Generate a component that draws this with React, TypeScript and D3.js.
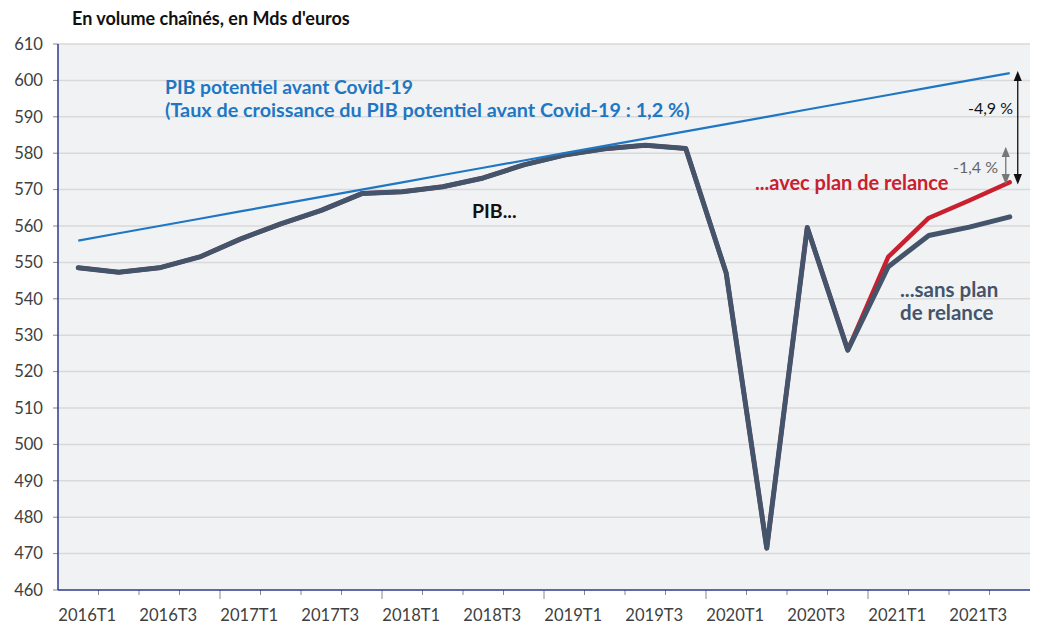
import React from 'react';
import * as d3 from 'd3';

// quarters on the x axis
const quarters = [
  '2016T1', '2016T2', '2016T3', '2016T4',
  '2017T1', '2017T2', '2017T3', '2017T4',
  '2018T1', '2018T2', '2018T3', '2018T4',
  '2019T1', '2019T2', '2019T3', '2019T4',
  '2020T1', '2020T2', '2020T3', '2020T4',
  '2021T1', '2021T2', '2021T3', '2021T4',
];

// PIB potentiel avant Covid-19
const potentiel = [
  556.0, 558.0, 560.0, 562.0, 564.0, 566.0, 568.0, 570.0,
  572.0, 574.0, 576.0, 578.0, 580.0, 582.0, 584.0, 586.0,
  588.0, 590.0, 592.0, 594.0, 596.0, 598.0, 600.0, 602.0,
];

// PIB ... sans plan de relance
const sansPlan = [
  548.5, 547.3, 548.5, 551.5, 556.4, 560.6, 564.3, 568.9,
  569.4, 570.8, 573.2, 576.8, 579.5, 581.2, 582.2, 581.3,
  547.0, 471.5, 559.6, 525.9, 548.8, 557.4, 559.7, 562.5,
];

// PIB ... avec plan de relance
const avecPlan = [
  548.5, 547.3, 548.5, 551.5, 556.4, 560.6, 564.3, 568.9,
  569.4, 570.8, 573.2, 576.8, 579.5, 581.2, 582.2, 581.3,
  547.0, 471.5, 559.6, 525.9, 551.5, 562.2, 567.0, 572.0,
];

const yTicks = d3.range(460, 611, 10);
const xLabels = quarters.filter((q, i) => i % 2 === 0);

const W = 1037;
const H = 625;
const margin = { top: 44, right: 7, bottom: 35, left: 58 };
const font = 'Lato, "Open Sans", sans-serif';

export default function App() {
  const x = d3
    .scaleBand()
    .domain(quarters)
    .range([margin.left, W - margin.right])
    .padding(0);
  const y = d3.scaleLinear().domain([460, 610]).range([H - margin.bottom, margin.top]);
  const cx = (q: string) => (x(q) as number) + x.bandwidth() / 2;

  const line = d3
    .line<number>()
    .x((d, i) => cx(quarters[i]))
    .y(d => y(d));

  const bottom = y(460);
  const last = quarters[quarters.length - 1];
  const xa = cx(last) + 8;

  return (
    <div style={{ position: 'absolute', left: 0, top: 0 }}>
      <svg width={W} height={H} style={{ display: 'block', fontFamily: font }}>
        <defs>
          <marker id="ab" viewBox="0 0 10 10" refX="5" refY="5" markerWidth="8" markerHeight="8" orient="auto-start-reverse">
            <path d="M0,1 L10,5 L0,9 z" fill="#111" />
          </marker>
          <marker id="ag" viewBox="0 0 10 10" refX="5" refY="5" markerWidth="8" markerHeight="8" orient="auto-start-reverse">
            <path d="M0,1 L10,5 L0,9 z" fill="#777" />
          </marker>
        </defs>
        <rect x={0} y={0} width={W} height={H} fill="#fff" />
        <text x={72} y={25} fontSize={18} fontWeight="bold" fill="#111">
          En volume chaînés, en Mds d'euros
        </text>

        {/* plot area */}
        <rect x={margin.left} y={margin.top} width={W - margin.right - margin.left} height={bottom - margin.top} fill="#f1f2f4" />
        {yTicks.map(t => (
          <g key={t}>
            {t > 460 && (
              <line x1={margin.left} x2={W - margin.right} y1={y(t)} y2={y(t)} stroke="#d9d9d9" strokeWidth={1.5} />
            )}
            <line x1={margin.left - 5} x2={margin.left} y1={y(t)} y2={y(t)} stroke="#888" />
            <text x={43} y={y(t)} dy="0.35em" textAnchor="end" fontSize={16.6} fill="#404040">
              {t}
            </text>
          </g>
        ))}

        {/* x ticks */}
        {quarters.slice(1).map(q => (
          <line
            key={q}
            x1={x(q) as number}
            x2={x(q) as number}
            y1={bottom}
            y2={bottom + (q.endsWith('T1') ? 9 : 5)}
            stroke="#888"
          />
        ))}
        {xLabels.map(q => (
          <text key={q} x={cx(q) + 9} y={621} textAnchor="middle" fontSize={16.6} fill="#404040">
            {q}
          </text>
        ))}

        <line x1={margin.left} x2={margin.left} y1={margin.top} y2={bottom} stroke="#2e3a8c" strokeWidth={1.5} />
        <line x1={margin.left} x2={W - margin.right} y1={bottom} y2={bottom} stroke="#2e3a8c" strokeWidth={1.5} />

        {/* series */}
        <path d={line(avecPlan) as string} fill="none" stroke="#c8202f" strokeWidth={4.5} strokeLinejoin="round" strokeLinecap="round" />
        <path d={line(sansPlan) as string} fill="none" stroke="#44546a" strokeWidth={5} strokeLinejoin="round" strokeLinecap="round" />
        <path d={line(potentiel) as string} fill="none" stroke="#1f77c4" strokeWidth={2.2} />

        {/* annotations */}
        <text x={165} y={94} fontSize={19.3} fontWeight="bold" fill="#1f77c4">
          PIB potentiel avant Covid-19
        </text>
        <text x={165} y={117} fontSize={19.8} fontWeight="bold" fill="#1f77c4">
          (Taux de croissance du PIB potentiel avant Covid-19 : 1,2 %)
        </text>
        <text x={472} y={218} fontSize={19.5} fontWeight="bold" fill="#111">
          PIB...
        </text>
        <text x={755} y={190} fontSize={20} fontWeight="bold" fill="#c8202f">
          ...avec plan de relance
        </text>
        <text x={900} y={297} fontSize={20.5} fontWeight="bold" fill="#44546a">
          ...sans plan
        </text>
        <text x={900} y={320} fontSize={20.5} fontWeight="bold" fill="#44546a">
          de relance
        </text>

        <line
          x1={xa}
          x2={xa}
          y1={y(potentiel[23]) + 3}
          y2={y(avecPlan[23]) - 3}
          stroke="#111"
          strokeWidth={1.3}
          markerStart="url(#ab)"
          markerEnd="url(#ab)"
        />
        <text x={1013} y={108} dy="0.35em" textAnchor="end" fontSize={16} fill="#111">
          -4,9 %
        </text>
        <line
          x1={xa - 12}
          x2={xa - 12}
          y1={152}
          y2={y(avecPlan[23]) - 3}
          stroke="#777"
          strokeWidth={1.3}
          markerStart="url(#ag)"
          markerEnd="url(#ag)"
        />
        <text x={998} y={167} dy="0.35em" textAnchor="end" fontSize={16} fill="#666">
          -1,4 %
        </text>
      </svg>
    </div>
  );
}
